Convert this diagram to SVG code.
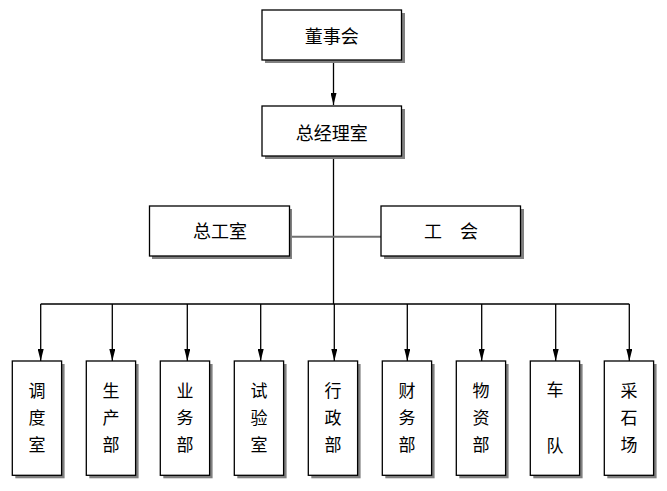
<svg xmlns="http://www.w3.org/2000/svg" width="667" height="491" viewBox="0 0 667 491">
<defs>
<style>
.box{fill:#fff;stroke:#000;stroke-width:1.3}
.sh{fill:#808080}
.t{font-family:"Noto Sans CJK SC","Noto Sans CJK JP",sans-serif;font-size:18px;fill:#000;text-anchor:middle}
.v{font-family:"Noto Sans CJK SC","Noto Sans CJK JP",sans-serif;font-size:17px;fill:#000;text-anchor:middle}
.ln{stroke:#000;stroke-width:1.3;fill:none}
</style>
<marker id="ah" viewBox="0 0 12 6" refX="12" refY="3" markerWidth="12" markerHeight="6" markerUnits="userSpaceOnUse" orient="auto">
<path d="M0,0 L12,3 L0,6 Z" fill="#000"/>
</marker>
</defs>
<rect width="667" height="491" fill="#fff"/>
<g id="connectors">
<line class="ln" x1="333.5" y1="60" x2="333.5" y2="105" marker-end="url(#ah)"/>
<line class="ln" x1="333.5" y1="156" x2="333.5" y2="304"/>
<line x1="290" y1="236.7" x2="381" y2="236.7" stroke="#707070" stroke-width="2"/>
<line class="ln" x1="40.7" y1="304" x2="629.3" y2="304"/>
<line class="ln" x1="40.7" y1="304" x2="40.7" y2="361" marker-end="url(#ah)"/>
<line class="ln" x1="112.3" y1="304" x2="112.3" y2="361" marker-end="url(#ah)"/>
<line class="ln" x1="187.3" y1="304" x2="187.3" y2="361" marker-end="url(#ah)"/>
<line class="ln" x1="260.7" y1="304" x2="260.7" y2="361" marker-end="url(#ah)"/>
<line class="ln" x1="334.3" y1="304" x2="334.3" y2="361" marker-end="url(#ah)"/>
<line class="ln" x1="407.3" y1="304" x2="407.3" y2="361" marker-end="url(#ah)"/>
<line class="ln" x1="481.7" y1="304" x2="481.7" y2="361" marker-end="url(#ah)"/>
<line class="ln" x1="555.7" y1="304" x2="555.7" y2="361" marker-end="url(#ah)"/>
<line class="ln" x1="629.3" y1="304" x2="629.3" y2="361" marker-end="url(#ah)"/>
</g>
<g id="n-board"><rect class="sh" x="265" y="13" width="140" height="50"/><rect class="box" x="262" y="10" width="139.5" height="50"/><text class="t" x="331.7" y="42.5">董事会</text></g>
<g id="n-gm"><rect class="sh" x="265" y="109" width="140" height="50"/><rect class="box" x="262" y="106" width="139.5" height="50"/><text class="t" x="331.7" y="139.5">总经理室</text></g>
<g id="n-zgs"><rect class="sh" x="152" y="209" width="140" height="50"/><rect class="box" x="149.5" y="206" width="140" height="50"/><text class="t" x="220" y="238">总工室</text></g>
<g id="n-gh"><rect class="sh" x="384" y="209" width="140" height="50"/><rect class="box" x="381" y="206" width="139.5" height="50"/><text class="t" x="451" y="238" xml:space="preserve">工　会</text></g>
<g id="n-d1"><rect class="sh" x="15.3" y="364" width="49.3" height="114.3"/><rect class="box" x="12.3" y="361" width="49.3" height="114.3"/><text class="v" x="37" y="397">调</text><text class="v" x="37" y="424">度</text><text class="v" x="37" y="450.5">室</text></g>
<g id="n-d2"><rect class="sh" x="89.3" y="364" width="49.3" height="114.3"/><rect class="box" x="86.3" y="361" width="49.3" height="114.3"/><text class="v" x="111" y="397">生</text><text class="v" x="111" y="424">产</text><text class="v" x="111" y="450.5">部</text></g>
<g id="n-d3"><rect class="sh" x="163.3" y="364" width="49.3" height="114.3"/><rect class="box" x="160.3" y="361" width="49.3" height="114.3"/><text class="v" x="185" y="397">业</text><text class="v" x="185" y="424">务</text><text class="v" x="185" y="450.5">部</text></g>
<g id="n-d4"><rect class="sh" x="237.3" y="364" width="49.3" height="114.3"/><rect class="box" x="234.3" y="361" width="49.3" height="114.3"/><text class="v" x="259" y="397">试</text><text class="v" x="259" y="424">验</text><text class="v" x="259" y="450.5">室</text></g>
<g id="n-d5"><rect class="sh" x="311.3" y="364" width="49.3" height="114.3"/><rect class="box" x="308.3" y="361" width="49.3" height="114.3"/><text class="v" x="333" y="397">行</text><text class="v" x="333" y="424">政</text><text class="v" x="333" y="450.5">部</text></g>
<g id="n-d6"><rect class="sh" x="385.3" y="364" width="49.3" height="114.3"/><rect class="box" x="382.3" y="361" width="49.3" height="114.3"/><text class="v" x="407" y="397">财</text><text class="v" x="407" y="424">务</text><text class="v" x="407" y="450.5">部</text></g>
<g id="n-d7"><rect class="sh" x="459.3" y="364" width="49.3" height="114.3"/><rect class="box" x="456.3" y="361" width="49.3" height="114.3"/><text class="v" x="481" y="397">物</text><text class="v" x="481" y="424">资</text><text class="v" x="481" y="450.5">部</text></g>
<g id="n-d8"><rect class="sh" x="533.3" y="364" width="49.3" height="114.3"/><rect class="box" x="530.3" y="361" width="49.3" height="114.3"/><text class="v" x="555" y="396">车</text><text class="v" x="555" y="452">队</text></g>
<g id="n-d9"><rect class="sh" x="607.3" y="364" width="49.3" height="114.3"/><rect class="box" x="604.3" y="361" width="49.3" height="114.3"/><text class="v" x="629" y="397">采</text><text class="v" x="629" y="424">石</text><text class="v" x="629" y="450.5">场</text></g>
</svg>
